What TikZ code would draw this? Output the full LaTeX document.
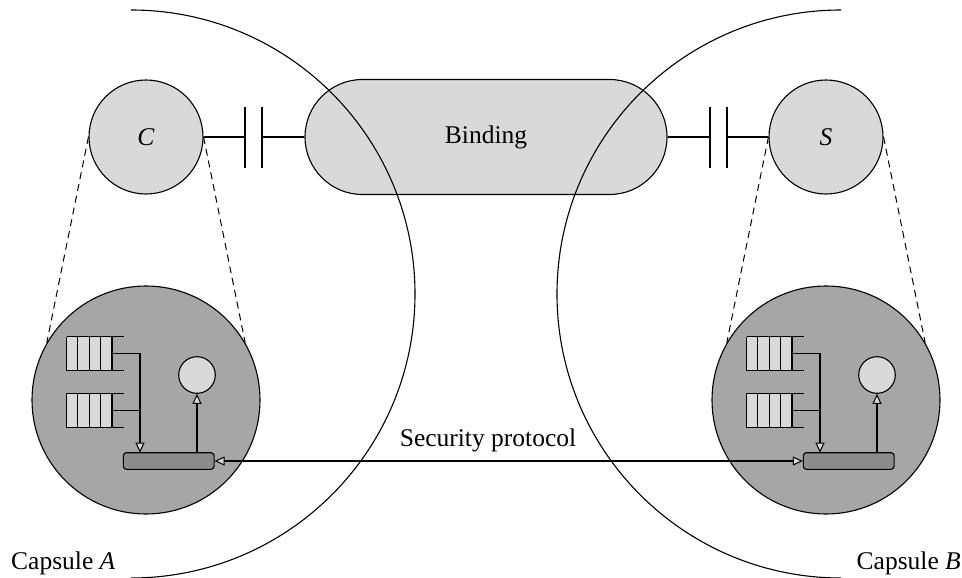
\documentclass[tikz,border=0pt]{standalone}
\usepackage{fontspec}
\setmainfont{Liberation Serif}
\usetikzlibrary{arrows.meta,shapes.misc,calc}
\definecolor{lightg}{HTML}{D9D9D9}
\definecolor{midg}{HTML}{A6A6A6}
\definecolor{darkg}{HTML}{8C8C8C}
\tikzset{
  every node/.style={font=\fontsize{25.5}{30}\selectfont},
  lightcirc/.style={circle, draw, fill=lightg, line width=1.1pt, inner sep=0pt},
  bigcirc/.style={circle, draw, fill=midg, line width=1.1pt, minimum size=228pt, inner sep=0pt},
  qbox/.style={rectangle, fill=lightg, minimum width=45pt, minimum height=34pt, inner sep=0pt},
  barbox/.style={rectangle, rounded corners=3pt, draw, fill=darkg, line width=1.1pt, minimum width=90.7pt, minimum height=16.6pt, inner sep=0pt},
  thinline/.style={line width=1.1pt},
  thickline/.style={line width=1.7pt},
  tipx/.tip={Triangle[length=10pt, width=9pt, fill=lightg, line width=1pt]},
  plate/.style={line width=1.7pt},
  dashline/.style={dashed, dash pattern=on 7pt off 5pt, line width=1pt}
}
\begin{document}
\begin{tikzpicture}[x=1pt, y=-1pt]
\useasboundingbox (0,0) rectangle (962,578);
% top nodes
\node[lightcirc, minimum size=114pt] (C) at (146,137) {\textit{C}};
\node[lightcirc, minimum size=114pt] (S) at (826,137) {\textit{S}};
\node[rounded rectangle, draw, fill=lightg, line width=1.1pt, minimum width=362pt, minimum height=115pt, inner sep=0pt] (bind) at (486,137) {Binding};
% capsule arcs
\coordinate (arcA) at (131,10);
\coordinate (arcB) at (841,10);
\draw[thinline] (arcA) arc[start angle=-90, end angle=90, radius=284];
\draw[thinline] (arcB) arc[start angle=-90, end angle=-270, radius=284];
% capacitors
\coordinate (pA1) at (245,137);
\coordinate (pA2) at (262,137);
\coordinate (pB1) at (710,137);
\coordinate (pB2) at (727,137);
\draw[thickline] (C.east) -- (pA1);
\draw[plate] ($(pA1)+(0,-30)$) -- ($(pA1)+(0,31)$);
\draw[plate] ($(pA2)+(0,-30)$) -- ($(pA2)+(0,31)$);
\draw[thinline] (pA2) -- (bind.west);
\draw[thinline] (bind.east) -- (pB1);
\draw[plate] ($(pB1)+(0,-30)$) -- ($(pB1)+(0,31)$);
\draw[plate] ($(pB2)+(0,-30)$) -- ($(pB2)+(0,31)$);
\draw[thickline] (pB2) -- (S.west);
% capsule internals
\foreach \side/\cx/\top in {A/146/C, B/826/S}{
  \begin{scope}[shift={(\cx,400)}]
    \node[bigcirc] (big\side) at (0,0) {};
    \draw[dashline] (\top.west) -- (big\side.150);
    \draw[dashline] (\top.east) -- (big\side.30);
    \foreach \q/\qy in {1/-46.3, 2/10.3}{
      \node[qbox] (q\side\q) at (-56.7,\qy) {};
      \foreach \k in {0,1,2,3}{
        \draw[thinline] ($(q\side\q.south west)+(11.25*\k,0)$) -- ($(q\side\q.north west)+(11.25*\k,0)$);
      }
      \draw[thinline] (q\side\q.north west) -- ($(q\side\q.north east)+(11.6,0)$);
      \draw[thinline] (q\side\q.south west) -- ($(q\side\q.south east)+(11.6,0)$);
      \draw[thinline] (q\side\q.north east) -- (q\side\q.south east);
    }
    \node[barbox] (bar\side) at (22.7,61) {};
    \node[lightcirc, minimum size=36.6pt] (sc\side) at (51,-25) {};
    \coordinate (j\side) at (-6,52.7);
    \draw[thinline, -tipx] (q\side1.east) -| (j\side);
    \draw[thinline] (q\side2.east) -- (q\side2.east -| j\side);
    \draw[thinline, -tipx] (bar\side.north -| sc\side.south) -- (sc\side.south);
  \end{scope}
}
% security protocol
\draw[thinline, tipx-tipx] (barA.east) -- (barB.west);
\node[anchor=base] (sp) at (488,446.7) {Security protocol};
% capsule labels
\node[anchor=base west, inner sep=0pt] (capA) at (11,569) {Capsule \textit{A}};
\node[anchor=base east, inner sep=0pt] (capB) at (961,569) {Capsule \textit{B}};
\end{tikzpicture}
\end{document}
